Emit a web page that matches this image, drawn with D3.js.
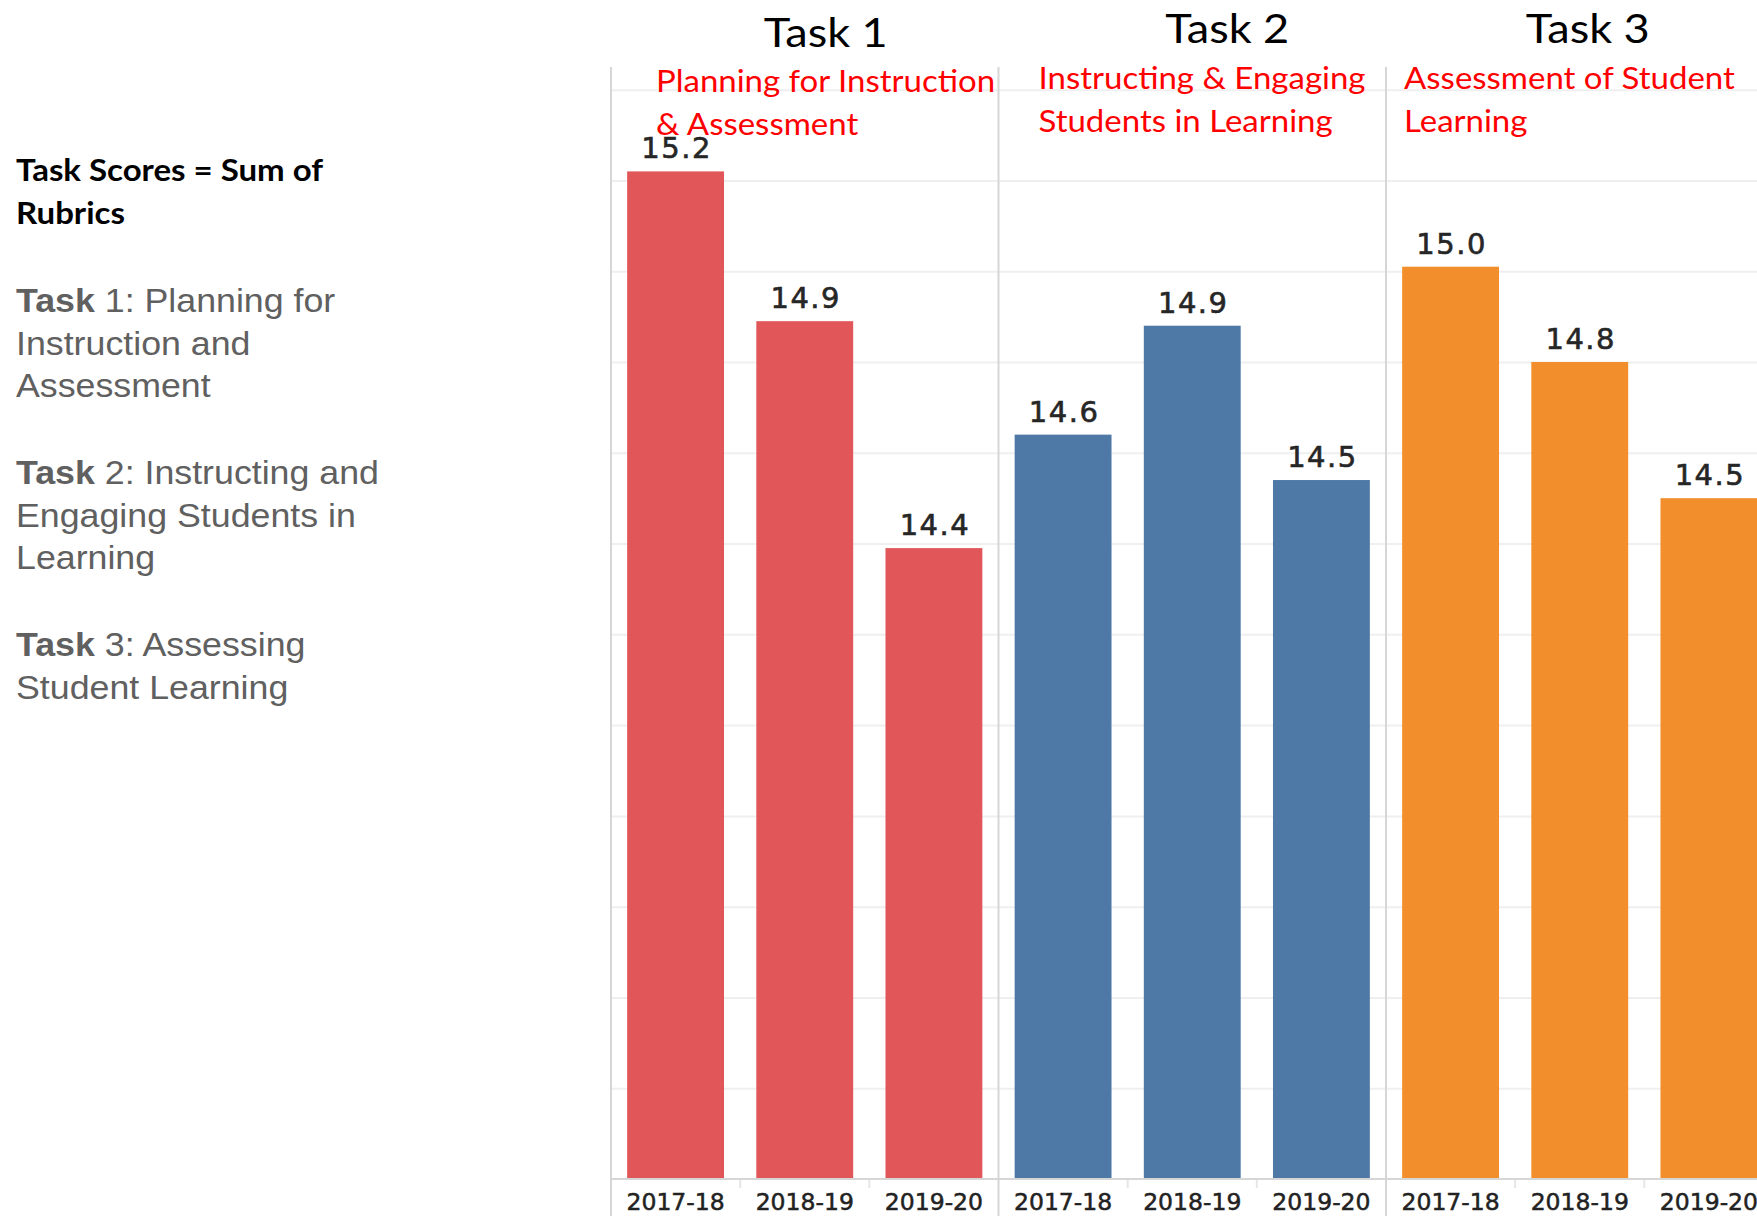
<!DOCTYPE html>
<html>
<head>
<meta charset="utf-8">
<script src="https://cdn.jsdelivr.net/npm/d3@7/dist/d3.min.js"></script>
<style>
  html, body { margin: 0; padding: 0; background: #ffffff; }
  svg { display: block; }
</style>
</head>
<body>
<svg id="chart" width="1757" height="1216"></svg>
<script>
// ---------- data ----------
const tasks = ["Task 1", "Task 2", "Task 3"];
const years = ["2017-18", "2018-19", "2019-20"];
const task1Scores = [15.22, 14.89, 14.39];
const task2Scores = [14.64, 14.88, 14.54];
const task3Scores = [15.01, 14.80, 14.50];
const taskColors = ["#E15759", "#4E79A7", "#F28E2B"];
const taskSubtitles = [
  ["Planning for Instruction", "& Assessment"],
  ["Instructing & Engaging", "Students in Learning"],
  ["Assessment of Student", "Learning"]
];
const gridValues = [13.2, 13.4, 13.6, 13.8, 14.0, 14.2, 14.4, 14.6, 14.8, 15.0, 15.2, 15.4];
const sideTitle = ["Task Scores = Sum of", "Rubrics"];
const sideBlocks = [
  ["1: Planning for", "Instruction and", "Assessment"],
  ["2: Instructing and", "Engaging Students in", "Learning"],
  ["3: Assessing", "Student Learning"]
];

const scoresByTask = [task1Scores, task2Scores, task3Scores];

// ---------- layout ----------
const W = 1757, H = 1216;
const plotLeft = 611, panelW = 387.5;
const plotTop = 67, baseY = 1179;
const SX = 1.1; // horizontal stretch seen in the reference text

const svg = d3.select("#chart");

const xOuter = d3.scaleBand().domain(tasks)
  .range([plotLeft, plotLeft + panelW * tasks.length]).paddingInner(0).paddingOuter(0);
const xInner = d3.scaleBand().domain(years)
  .range([0, xOuter.bandwidth()]).paddingInner(0.25).paddingOuter(0.125);
const y = d3.scaleLinear().domain([13.0, 15.45]).range([baseY, plotTop]);

// gridlines
const grid = svg.append("g")
  .attr("transform", `translate(${plotLeft},0)`)
  .call(d3.axisLeft(y).tickValues(gridValues).tickSize(-(W - plotLeft)).tickFormat(""));
grid.select(".domain").remove();
grid.selectAll(".tick line").attr("stroke", "#efefef").attr("stroke-width", 2);

// bars
const panels = svg.selectAll("g.panel").data(tasks).join("g")
  .attr("class", "panel")
  .attr("transform", d => `translate(${xOuter(d)},0)`);

panels.each(function(task, ti) {
  const g = d3.select(this);
  const rows = years.map((yr, i) => ({ yr, v: scoresByTask[ti][i] }));
  g.selectAll("rect").data(rows).join("rect")
    .attr("x", d => xInner(d.yr))
    .attr("width", xInner.bandwidth())
    .attr("y", d => y(d.v))
    .attr("height", d => y(13.0) - y(d.v))
    .attr("fill", taskColors[ti]);
  g.selectAll("text.val").data(rows).join("text")
    .attr("class", "val")
    .attr("x", d => xInner(d.yr) + xInner.bandwidth() / 2 + 1)
    .attr("y", d => y(d.v) - 13)
    .attr("text-anchor", "middle")
    .attr("font-family", "DejaVu Sans, Verdana, sans-serif")
    .attr("font-size", 29)
    .attr("letter-spacing", 1.5)
    .attr("fill", "#262626")
    .attr("stroke", "#262626")
    .attr("stroke-width", 0.6)
    .text(d => d3.format(".1f")(d.v));
  // x axis per panel
  const ax = g.append("g")
    .attr("transform", `translate(0,${baseY})`)
    .call(d3.axisBottom(xInner).tickSize(0).tickPadding(31));
  ax.select(".domain").remove();
  ax.selectAll(".tick text")
    .attr("font-family", "DejaVu Sans, Verdana, sans-serif")
    .attr("font-size", 23.5)
    .attr("fill", "#222")
    .attr("stroke", "#222")
    .attr("stroke-width", 0.5)
    .attr("dy", 0);
  // faint band-boundary ticks
  g.selectAll("line.bt").data(years.slice(1)).join("line")
    .attr("class", "bt")
    .attr("x1", d => xInner(d) - xInner.step() * xInner.paddingInner() / 2)
    .attr("x2", d => xInner(d) - xInner.step() * xInner.paddingInner() / 2)
    .attr("y1", baseY + 1).attr("y2", baseY + 9)
    .attr("stroke", "#e6e6e6").attr("stroke-width", 2);
});

// baseline
svg.append("line")
  .attr("x1", plotLeft).attr("x2", W)
  .attr("y1", baseY).attr("y2", baseY)
  .attr("stroke", "#d6d6d6").attr("stroke-width", 2);

// panel dividers / left axis
svg.selectAll("line.div").data(tasks).join("line")
  .attr("class", "div")
  .attr("x1", d => xOuter(d)).attr("x2", d => xOuter(d))
  .attr("y1", plotTop).attr("y2", H)
  .attr("stroke", "#d6d6d6").attr("stroke-width", 2);

// helper for stretched text
function stretchedText(x, yPos, str, opts) {
  const t = svg.append("text")
    .attr("transform", `translate(${x},${yPos}) scale(${SX},1)`)
    .attr("font-family", opts.family)
    .attr("font-size", opts.size)
    .attr("font-weight", opts.weight || "normal")
    .attr("fill", opts.fill)
    .attr("text-anchor", opts.anchor || "start");
  if (str !== null) t.text(str);
  return t;
}

// task headers
const headerDX = [21, 35, 8];
const headerY = [47, 42.5, 42.5];
tasks.forEach((t, i) => {
  stretchedText(xOuter(t) + panelW / 2 + headerDX[i], headerY[i], t,
    { family: "Lato, Carlito, Calibri, sans-serif", size: 41, fill: "#000", anchor: "middle" });
});

// red subtitles
const subDX = [45, 40, 18];
const subY = [[92, 135], [89, 132], [89, 132]];
taskSubtitles.forEach((lines, i) => {
  lines.forEach((ln, j) => {
    stretchedText(xOuter(tasks[i]) + subDX[i], subY[i][j], ln,
      { family: "Lato, Carlito, Calibri, sans-serif", size: 30, fill: "#FF0000" });
  });
});

// side panel title
const sideX = 16;
[181, 224].forEach((yy, i) => {
  stretchedText(sideX, yy, sideTitle[i],
    { family: "Lato, Carlito, Calibri, sans-serif", size: 30, weight: "bold", fill: "#000" });
});

// side panel task descriptions
const blockY = [[312, 355, 397], [484, 527, 569], [656, 699]];
sideBlocks.forEach((lines, bi) => {
  lines.forEach((ln, j) => {
    const t = stretchedText(sideX, blockY[bi][j], null,
      { family: "Liberation Sans, Arial, sans-serif", size: 32.5, fill: "#606060" });
    if (j === 0) {
      t.append("tspan").attr("font-weight", "bold").text("Task ");
      t.append("tspan").text(ln);
    } else {
      t.text(ln);
    }
  });
});
</script>
</body>
</html>
